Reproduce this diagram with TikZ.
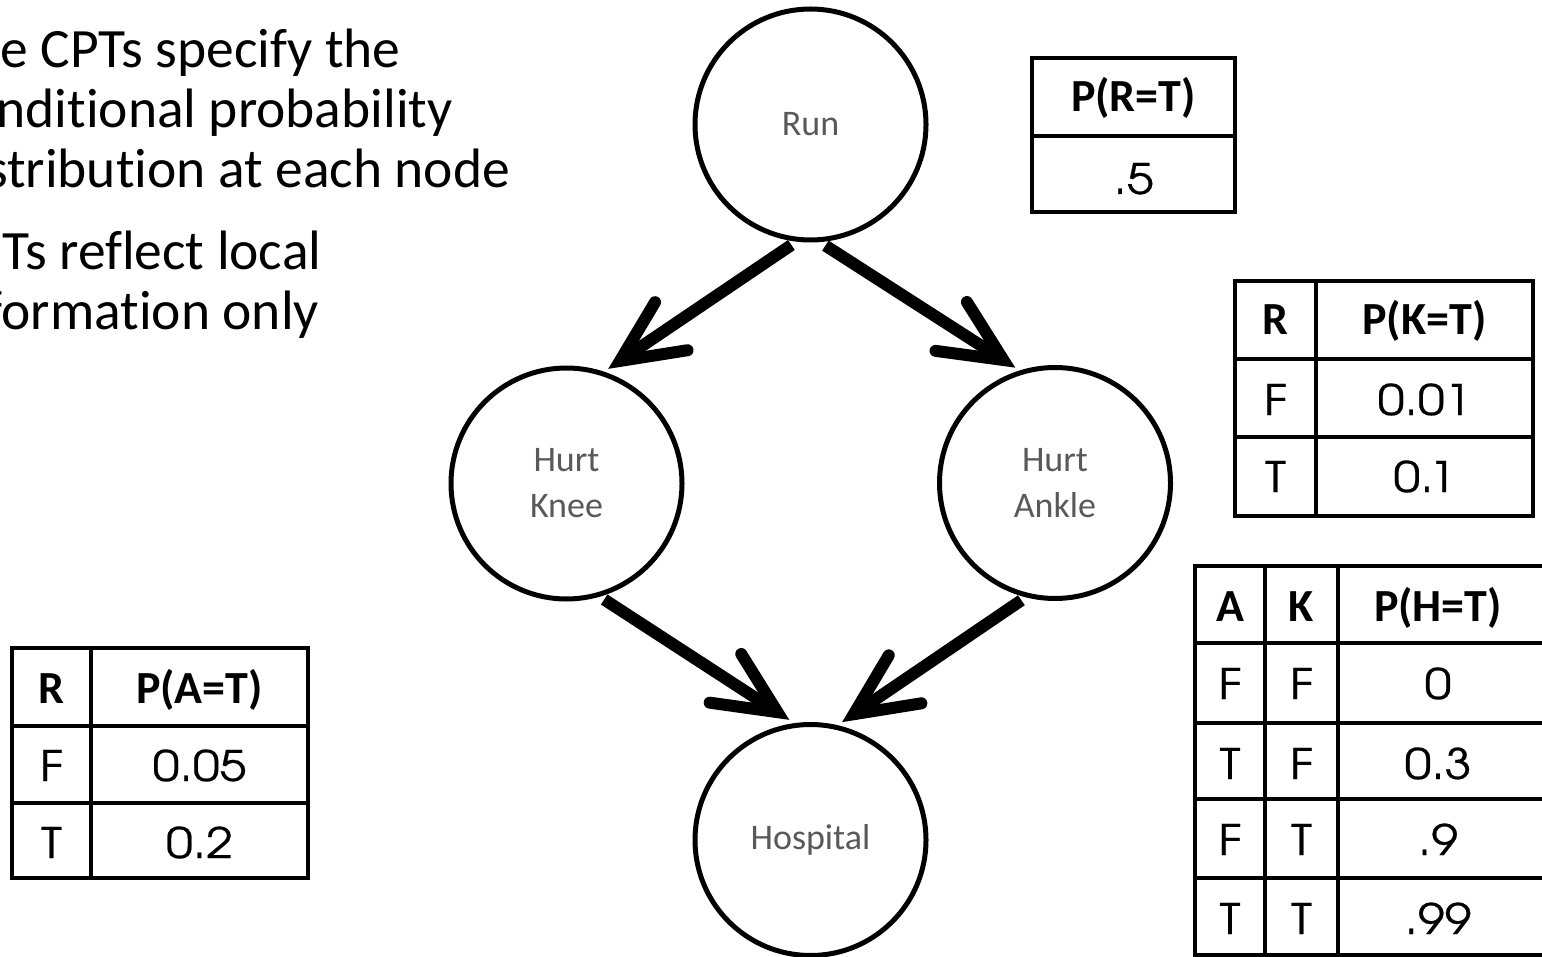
\documentclass[tikz,border=0pt]{standalone}
\usepackage{fontspec}
\setmainfont{Carlito}[Ligatures=NoCommon]
\newfontfamily\valfont{texgyreadventor-regular.otf}[FakeBold=0.5, FakeStretch=1.15]
\usetikzlibrary{arrows.meta}
\definecolor{labelgray}{HTML}{595959}

\begin{document}
\begin{tikzpicture}[x=1pt, y=-1pt,
  bnode/.style={circle, draw, line width=5pt, minimum size=231pt, inner sep=0pt,
    outer sep=6.5pt, text=labelgray, align=center,
    font=\fontsize{36}{46}\selectfont},
  link/.style={line width=12pt,
    -{Straight Barb[length=62pt, width=58pt, line cap=round, line join=miter]}},
  grid/.style={line width=4pt},
  hdr/.style={anchor=base, inner sep=0pt, font=\bfseries\fontsize{46}{46}\selectfont},
  val/.style={anchor=base, inner sep=0pt, font=\valfont\fontsize{42}{42}\selectfont},
  bodytext/.style={anchor=base west, inner sep=0pt, font=\fontsize{55.5}{60}\selectfont}]

\fill[white] (0,0) rectangle (1542,957);
\clip (0,0) rectangle (1542,957);

% bullet text, running off the left edge
\node[bodytext] (t1) at (-56,68)  {The CPTs specify the};
\node[bodytext] (t2) at (-56,128) {conditional probability};
\node[bodytext] (t3) at (-56,188) {distribution at each node};
\node[bodytext] (t4) at (-56,270) {CPTs reflect local};
\node[bodytext] (t5) at (-56,330) {information only};

% network nodes
\node[bnode] (run)   at (810.5,124.5) {Run};
\node[bnode] (knee)  at (566.5,483.5) {Hurt\\Knee};
\node[bnode] (ankle) at (1055,483)    {Hurt\\Ankle};
\node[bnode] (hosp)  at (810.5,840)   {Hospital};

% edges
\draw[link] (run.261.3)  -- (knee.70.7);
\draw[link] (run.277)    -- (ankle.109.7);
\draw[link] (knee.288.3) -- (hosp.100.8);
\draw[link] (ankle.254.9) -- (hosp.75.3);

% CPT for Run
\draw[grid] (1032,58) rectangle (1235,212);
\draw[grid] (1032,136) -- (1235,136);
\node[hdr] (rh) at (1133.5,112) {P(R=T)};
\node[val] (rv) at (1133.5,194) {.5};

% CPT for Hurt Knee
\draw[grid] (1235,281) rectangle (1533,516);
\draw[grid] (1235,359) -- (1533,359);
\draw[grid] (1235,437) -- (1533,437);
\draw[grid] (1316,281) -- (1316,516);
\node[hdr] (kh1) at (1275.5,335) {R};
\node[hdr] (kh2) at (1424.5,335) {P(K=T)};
\node[val] (k11) at (1275.5,415) {F};
\node[val] (k12) at (1424.5,415) {0.01};
\node[val] (k21) at (1275.5,492) {T};
\node[val] (k22) at (1424.5,492) {0.1};

% CPT for Hurt Ankle
\draw[grid] (12,648) rectangle (308,878);
\draw[grid] (12,726) -- (308,726);
\draw[grid] (12,803) -- (308,803);
\draw[grid] (91,648) -- (91,878);
\node[hdr] (ah1) at (51.5,703)  {R};
\node[hdr] (ah2) at (199.5,703) {P(A=T)};
\node[val] (a11) at (51.5,781)  {F};
\node[val] (a12) at (199.5,781) {0.05};
\node[val] (a21) at (51.5,858)  {T};
\node[val] (a22) at (199.5,858) {0.2};

% CPT for Hospital
\draw[grid] (1195,566) rectangle (1548,955);
\foreach \yy in {643,723,799,878} \draw[grid] (1195,\yy) -- (1548,\yy);
\draw[grid] (1265,566) -- (1265,955);
\draw[grid] (1338,566) -- (1338,955);
\node[hdr] (hh1) at (1230,621)   {A};
\node[hdr] (hh2) at (1301.5,621) {K};
\node[hdr] (hh3) at (1438,621)   {P(H=T)};
\node[val] (h11) at (1230,699)   {F};
\node[val] (h12) at (1301.5,699) {F};
\node[val] (h13) at (1438,699)   {0};
\node[val] (h21) at (1230,779)   {T};
\node[val] (h22) at (1301.5,779) {F};
\node[val] (h23) at (1438,779)   {0.3};
\node[val] (h31) at (1230,855)   {F};
\node[val] (h32) at (1301.5,855) {T};
\node[val] (h33) at (1438,855)   {.9};
\node[val] (h41) at (1230,934)   {T};
\node[val] (h42) at (1301.5,934) {T};
\node[val] (h43) at (1438,934)   {.99};
\end{tikzpicture}
\end{document}
